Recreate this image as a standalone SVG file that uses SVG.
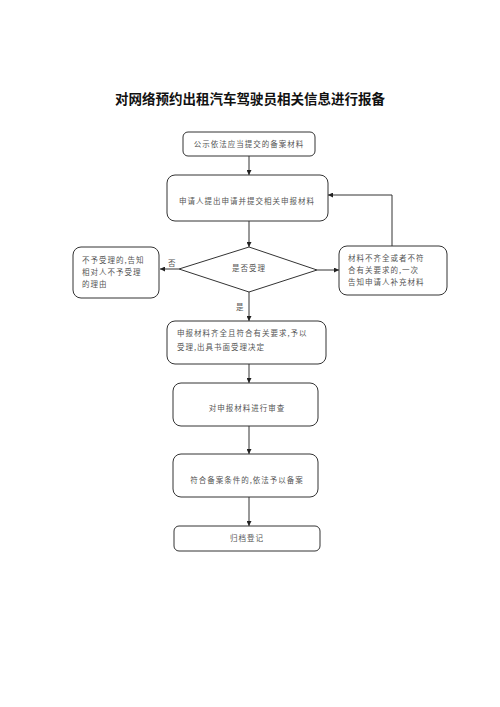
<svg xmlns="http://www.w3.org/2000/svg" width="500" height="707" viewBox="0 0 500 707">
<style>
.box{fill:#fff;stroke:#333;stroke-width:1}
.t{font-family:"Noto Sans CJK SC","Liberation Serif",serif;font-size:7.5px;fill:#555;letter-spacing:1px}
.c{text-anchor:middle}
.ln{stroke:#333;stroke-width:1;fill:none}
.title{font-family:"Noto Sans CJK SC",sans-serif;font-size:13.5px;font-weight:bold;fill:#111;text-anchor:middle}
</style>
<defs>
<marker id="ah" viewBox="0 0 10 10" refX="10" refY="5" markerWidth="5" markerHeight="5" orient="auto"><path d="M0,0L10,5L0,10z" fill="#222"/></marker>
</defs>
<rect width="500" height="707" fill="#fff"/>
<text class="title" x="250" y="104">对网络预约出租汽车驾驶员相关信息进行报备</text>
<g id="connectors">
<line class="ln" x1="249" y1="156" x2="249" y2="175" marker-end="url(#ah)"/>
<line class="ln" x1="249" y1="221" x2="249" y2="247" marker-end="url(#ah)"/>
<polyline class="ln" points="392,246 392,195 328,195" marker-end="url(#ah)"/>
<line class="ln" x1="179" y1="269" x2="160" y2="269" marker-end="url(#ah)"/>
<line class="ln" x1="317" y1="270" x2="339" y2="270" marker-end="url(#ah)"/>
<line class="ln" x1="249" y1="292" x2="249" y2="321" marker-end="url(#ah)"/>
<line class="ln" x1="249" y1="364" x2="249" y2="383" marker-end="url(#ah)"/>
<line class="ln" x1="249" y1="426" x2="249" y2="454" marker-end="url(#ah)"/>
<line class="ln" x1="249" y1="497" x2="249" y2="526" marker-end="url(#ah)"/>
<text class="t" x="168" y="266">否</text>
<text class="t" x="236" y="310">是</text>
</g>
<g id="n1"><rect class="box" x="183" y="132" width="132" height="24" rx="5"/><text class="t c" x="249" y="147">公示依法应当提交的备案材料</text></g>
<g id="n2"><rect class="box" x="167" y="175" width="161" height="46" rx="8"/><text class="t c" x="247" y="204">申请人提出申请并提交相关申报材料</text></g>
<g id="n3"><polygon class="box" points="249,247 317,270 249,292 179,269"/><text class="t c" x="249" y="271">是否受理</text></g>
<g id="n4"><rect class="box" x="73" y="247" width="86" height="51" rx="8"/><text class="t" x="82" y="263">不予受理的,告知</text><text class="t" x="82" y="275">相对人不予受理</text><text class="t" x="82" y="287">的理由</text></g>
<g id="n5"><rect class="box" x="339" y="246" width="108" height="49" rx="8"/><text class="t" x="348" y="261">材料不齐全或者不符</text><text class="t" x="348" y="273">合有关要求的,一次</text><text class="t" x="348" y="285">告知申请人补充材料</text></g>
<g id="n6"><rect class="box" x="167" y="321" width="159" height="43" rx="8"/><text class="t" x="177" y="336">申报材料齐全且符合有关要求,予以</text><text class="t" x="177" y="350">受理,出具书面受理决定</text></g>
<g id="n7"><rect class="box" x="173" y="383" width="145" height="43" rx="8"/><text class="t c" x="247" y="411">对申报材料进行审查</text></g>
<g id="n8"><rect class="box" x="173" y="454" width="145" height="43" rx="8"/><text class="t c" x="247" y="483">符合备案条件的,依法予以备案</text></g>
<g id="n9"><rect class="box" x="174" y="526" width="146" height="25" rx="5"/><text class="t c" x="247" y="541">归档登记</text></g>
</svg>
